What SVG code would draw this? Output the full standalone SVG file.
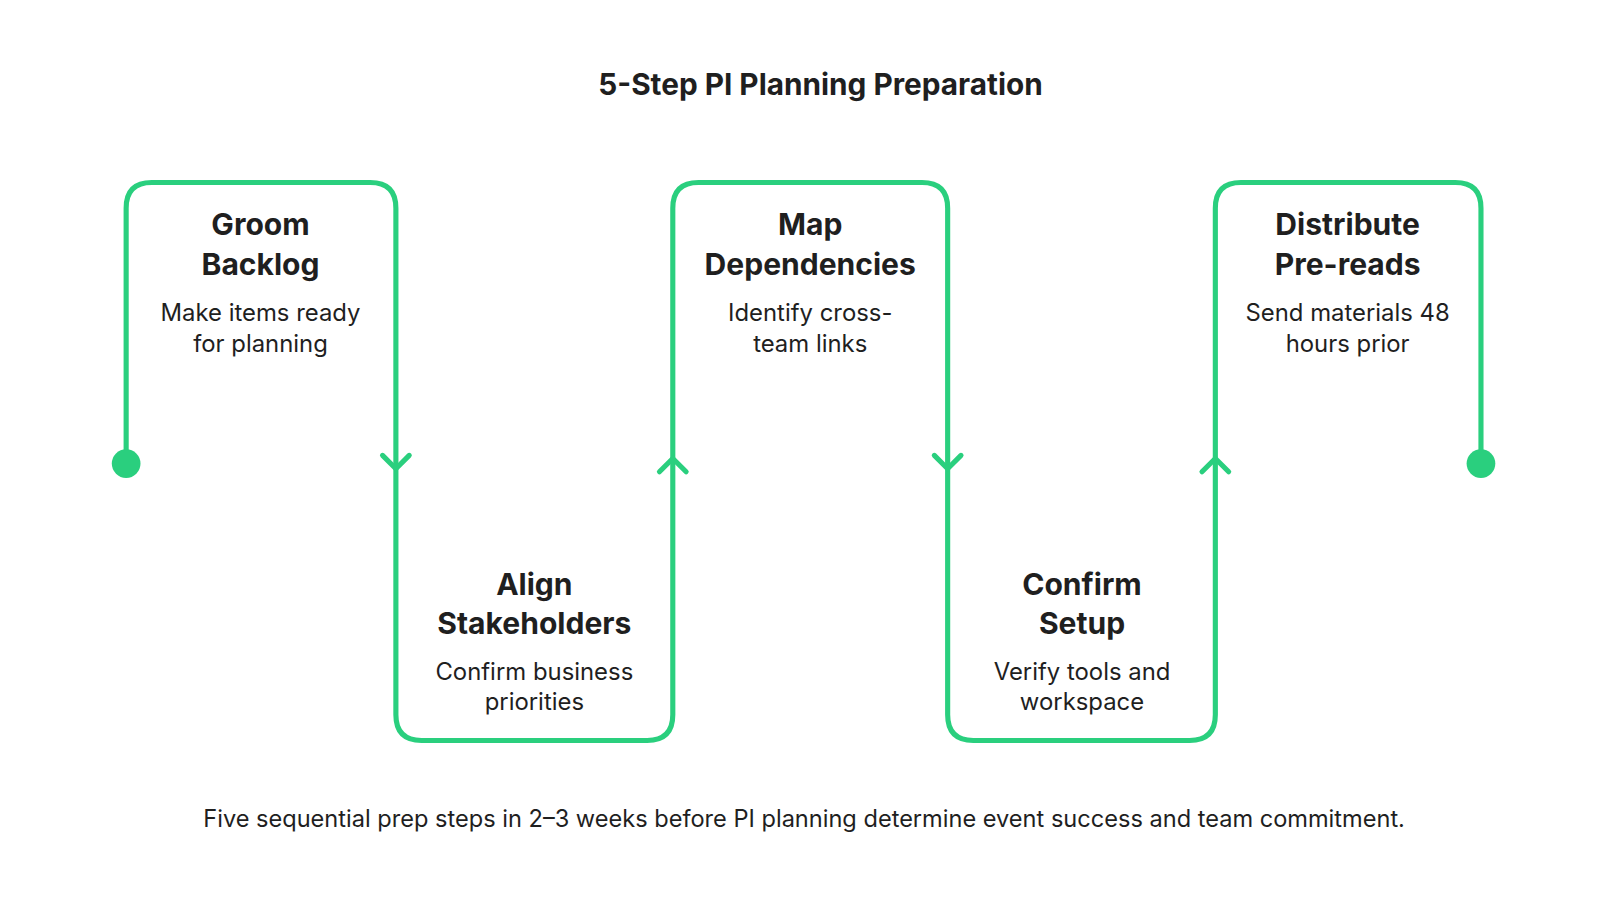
<svg xmlns="http://www.w3.org/2000/svg" width="1600" height="900" viewBox="0 0 1600 900">
<style>
text{font-family:Inter,"Noto Sans",sans-serif;fill:#1f1f1f;text-anchor:middle}
.h{font-size:29.3px;font-weight:700}
.d{font-size:23.3px}
.line{fill:none;stroke:#2ACF7E;stroke-width:5;stroke-linejoin:round;stroke-linecap:round}
</style>
<rect width="1600" height="900" fill="#fff"/>
<g transform="scale(1.0256)">
<text x="800" y="93" style="font-size:29px;font-weight:700">5-Step PI Planning Preparation</text>
<g id="connectors">
<path class="line" d="M123,452 V203 Q123,178 148,178 H361 Q386,178 386,203 V697 Q386,722 411,722 H631 Q656,722 656,697 V203 Q656,178 681,178 H899 Q924,178 924,203 V697 Q924,722 949,722 H1160 Q1185,722 1185,697 V203 Q1185,178 1210,178 H1419 Q1444,178 1444,203 V452"/>
<circle cx="123" cy="452" r="14" fill="#2ACF7E"/>
<circle cx="1444" cy="452" r="14" fill="#2ACF7E"/>
<path class="line" d="M373,444 L386,457 L399,444"/>
<path class="line" d="M643,460 L656,447 L669,460"/>
<path class="line" d="M911,444 L924,457 L937,444"/>
<path class="line" d="M1172,460 L1185,447 L1198,460"/>
</g>
<g id="step1"><text class="h" x="254" y="229">Groom</text><text class="h" x="254" y="268">Backlog</text><text class="d" x="254" y="313">Make items ready</text><text class="d" x="254" y="343">for planning</text></g>
<g id="step2"><text class="h" x="521" y="580">Align</text><text class="h" x="521" y="618">Stakeholders</text><text class="d" x="521" y="663">Confirm business</text><text class="d" x="521" y="692">priorities</text></g>
<g id="step3"><text class="h" x="790" y="229">Map</text><text class="h" x="790" y="268">Dependencies</text><text class="d" x="790" y="313">Identify cross-</text><text class="d" x="790" y="343">team links</text></g>
<g id="step4"><text class="h" x="1055" y="580">Confirm</text><text class="h" x="1055" y="618">Setup</text><text class="d" x="1055" y="663">Verify tools and</text><text class="d" x="1055" y="692">workspace</text></g>
<g id="step5"><text class="h" x="1314" y="229">Distribute</text><text class="h" x="1314" y="268">Pre-reads</text><text class="d" x="1314" y="313">Send materials 48</text><text class="d" x="1314" y="343">hours prior</text></g>
<text x="784" y="806" style="font-size:23px">Five sequential prep steps in 2–3 weeks before PI planning determine event success and team commitment.</text>
</g>
</svg>
